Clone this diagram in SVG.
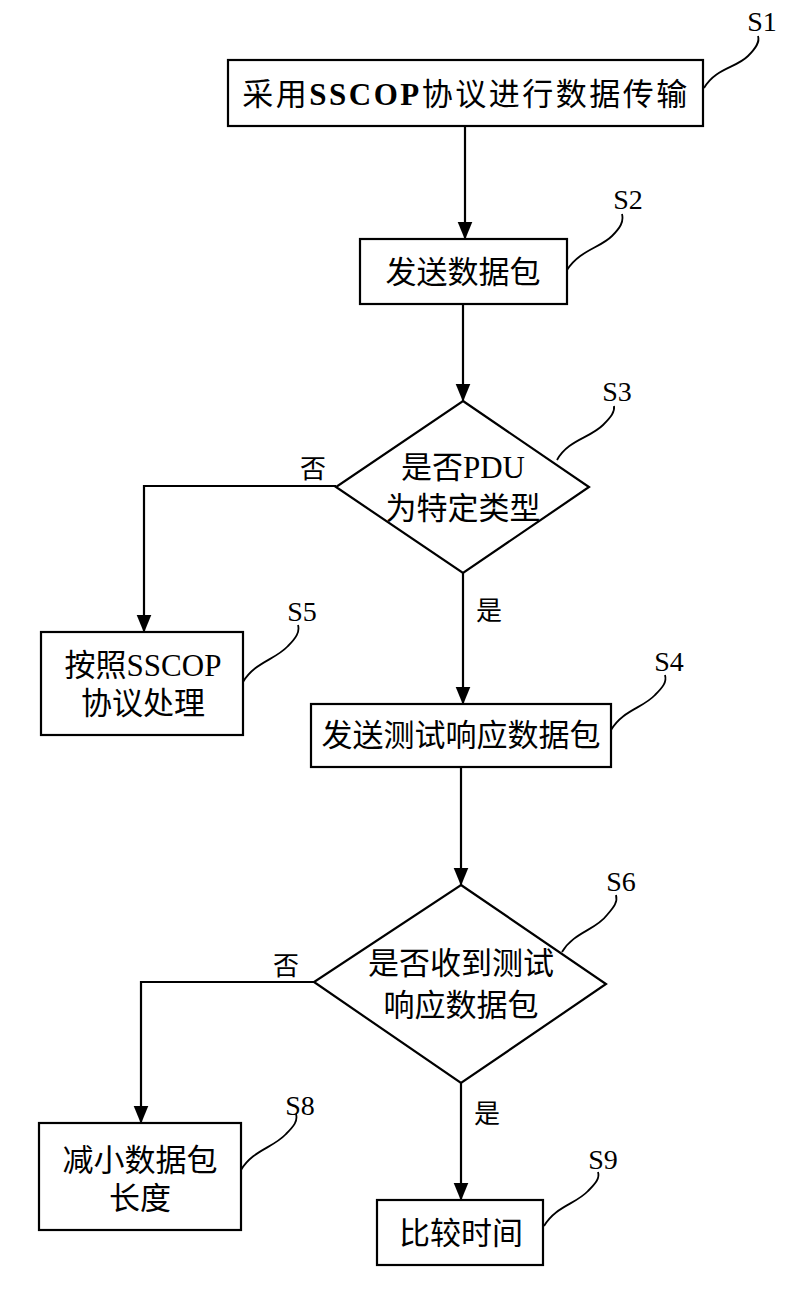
<svg xmlns="http://www.w3.org/2000/svg" width="800" height="1300" viewBox="0 0 800 1300">
<style>
.box{fill:#fff;stroke:#000;stroke-width:2.2}
.t{font-family:"Liberation Serif","Noto Sans CJK SC",serif;font-size:31px;fill:#000;text-anchor:middle}
.lab{font-family:"Liberation Serif",serif;font-size:28px;fill:#000;text-anchor:middle}
.yn{font-family:"Liberation Serif","Noto Sans CJK SC",serif;font-size:26px;fill:#000;text-anchor:middle}
.ln{fill:none;stroke:#000;stroke-width:2.2;marker-end:url(#ah)}
.lead{fill:none;stroke:#000;stroke-width:1.8}
</style>
<defs>
<marker id="ah" markerWidth="18" markerHeight="22" refX="21" refY="9" orient="auto" markerUnits="userSpaceOnUse" viewBox="0 0 22 18">
<path d="M0,0 L22,9 L0,18 Z" fill="#000"/>
</marker>
</defs>
<rect width="800" height="1300" fill="#fff"/>
<g id="connectors">
<path class="ln" d="M465,126 V239"/>
<path class="ln" d="M463,304 V401"/>
<path class="ln" d="M336,486 H144 V632"/>
<path class="ln" d="M463,573 V704"/>
<path class="ln" d="M461,767 V885"/>
<path class="ln" d="M314,982 H141 V1123"/>
<path class="ln" d="M461,1083 V1200"/>
<text class="yn" x="313" y="478">否</text>
<text class="yn" x="489" y="620">是</text>
<text class="yn" x="286" y="975">否</text>
<text class="yn" x="487" y="1123">是</text>
</g>
<g id="S1">
<rect class="box" x="228" y="60" width="475" height="66"/>
<text class="t" x="466" y="105" letter-spacing="2.5">采用<tspan font-weight="bold">SSCOP</tspan>协议进行数据传输</text>
<path class="lead" d="M704,88 C716,68 736,68 748,56 C756,48 760,42 758,36"/>
<text class="lab" x="762" y="31">S1</text>
</g>
<g id="S2">
<rect class="box" x="360" y="239" width="207" height="65"/>
<text class="t" x="463" y="283">发送数据包</text>
<path class="lead" d="M567,270 C580,250 600,248 612,236 C620,228 624,222 622,214"/>
<text class="lab" x="628" y="209">S2</text>
</g>
<g id="S3">
<polygon class="box" points="463,401 589,487 463,573 336,487"/>
<text class="t" x="463" y="478">是否PDU</text>
<text class="t" x="463" y="519">为特定类型</text>
<path class="lead" d="M557,460 C568,440 590,438 603,425 C611,417 615,412 614,406"/>
<text class="lab" x="617" y="401">S3</text>
</g>
<g id="S5">
<rect class="box" x="41" y="632" width="202" height="103"/>
<text class="t" x="143" y="676">按照SSCOP</text>
<text class="t" x="143" y="714">协议处理</text>
<path class="lead" d="M243,682 C255,662 275,660 288,646 C296,638 300,632 298,625"/>
<text class="lab" x="302" y="621">S5</text>
</g>
<g id="S4">
<rect class="box" x="311" y="704" width="300" height="63"/>
<text class="t" x="461" y="746">发送测试响应数据包</text>
<path class="lead" d="M611,730 C623,710 643,708 655,695 C663,687 667,682 665,675"/>
<text class="lab" x="669" y="671">S4</text>
</g>
<g id="S6">
<polygon class="box" points="461,885 606,984 461,1083 314,982"/>
<text class="t" x="461" y="974">是否收到测试</text>
<text class="t" x="461" y="1016">响应数据包</text>
<path class="lead" d="M562,952 C574,932 596,930 607,915 C614,907 618,902 616,895"/>
<text class="lab" x="621" y="891">S6</text>
</g>
<g id="S8">
<rect class="box" x="39" y="1123" width="202" height="107"/>
<text class="t" x="140" y="1171">减小数据包</text>
<text class="t" x="140" y="1209">长度</text>
<path class="lead" d="M241,1170 C253,1150 273,1148 286,1134 C294,1126 298,1121 296,1114"/>
<text class="lab" x="300" y="1115">S8</text>
</g>
<g id="S9">
<rect class="box" x="377" y="1200" width="166" height="65"/>
<text class="t" x="461" y="1244">比较时间</text>
<path class="lead" d="M544,1226 C556,1206 576,1204 588,1191 C596,1183 600,1178 598,1172"/>
<text class="lab" x="603" y="1169">S9</text>
</g>
</svg>
